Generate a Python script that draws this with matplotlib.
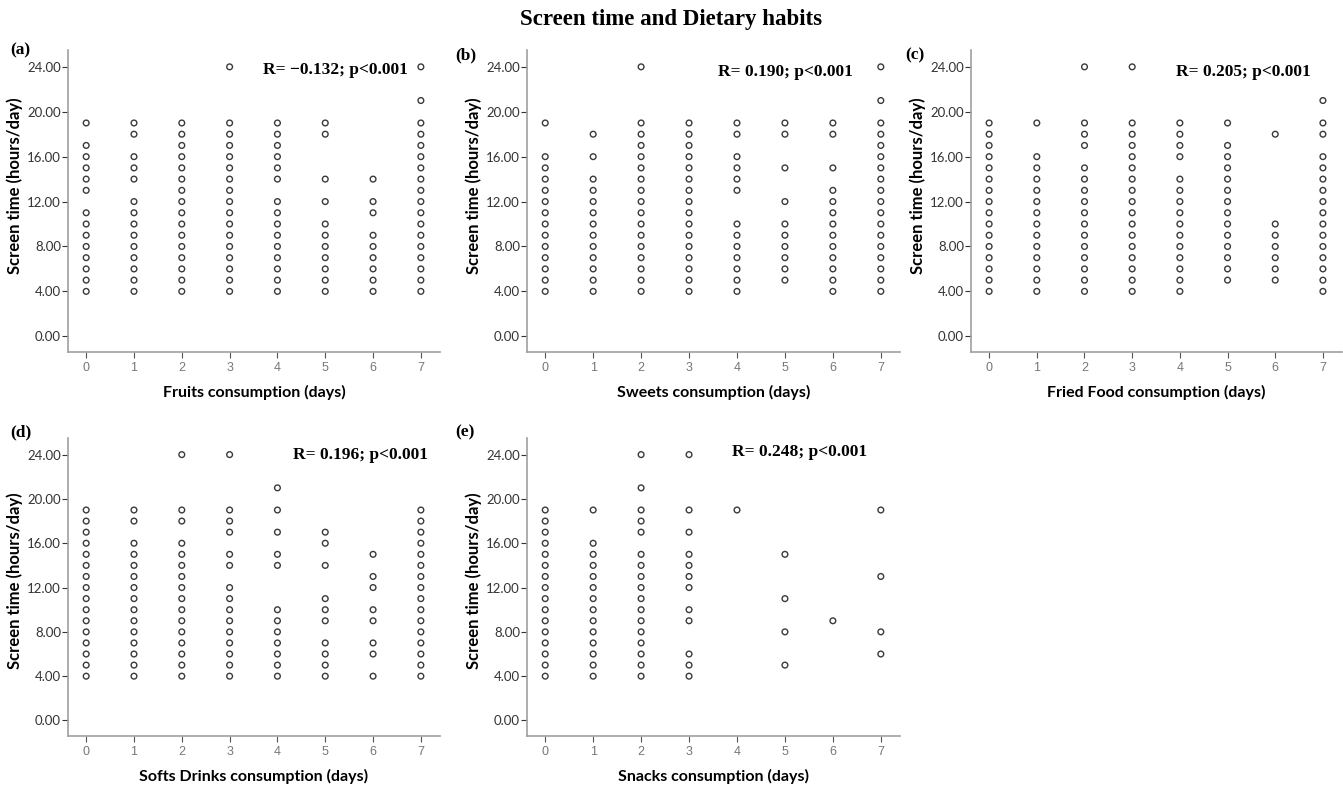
import matplotlib
matplotlib.use("Agg")
import matplotlib.pyplot as plt

# screen time values (hours/day) seen at each consumption level (days 0..7)
days = [0, 1, 2, 3, 4, 5, 6, 7]

fruits = [
    [19, 17, 16, 15, 14, 13, 11, 10, 9, 8, 7, 6, 5, 4],
    [19, 18, 16, 15, 14, 12, 11, 10, 9, 8, 7, 6, 5, 4],
    [19, 18, 17, 16, 15, 14, 13, 12, 11, 10, 9, 8, 7, 6, 5, 4],
    [24, 19, 18, 17, 16, 15, 14, 13, 12, 11, 10, 9, 8, 7, 6, 5, 4],
    [19, 18, 17, 16, 15, 14, 12, 11, 10, 9, 8, 7, 6, 5, 4],
    [19, 18, 14, 12, 10, 9, 8, 7, 6, 5, 4],
    [14, 12, 11, 9, 8, 7, 6, 5, 4],
    [24, 21, 19, 18, 17, 16, 15, 14, 13, 12, 11, 10, 9, 8, 7, 6, 5, 4],
]

sweets = [
    [19, 16, 15, 14, 13, 12, 11, 10, 9, 8, 7, 6, 5, 4],
    [18, 16, 14, 13, 12, 11, 10, 9, 8, 7, 6, 5, 4],
    [24, 19, 18, 17, 16, 15, 14, 13, 12, 11, 10, 9, 8, 7, 6, 5, 4],
    [19, 18, 17, 16, 15, 14, 13, 12, 11, 10, 9, 8, 7, 6, 5, 4],
    [19, 18, 16, 15, 14, 13, 10, 9, 8, 7, 6, 5, 4],
    [19, 18, 15, 12, 10, 9, 8, 7, 6, 5],
    [19, 18, 15, 13, 12, 11, 10, 9, 8, 7, 6, 5, 4],
    [24, 21, 19, 18, 17, 16, 15, 14, 13, 12, 11, 10, 9, 8, 7, 6, 5, 4],
]

fried = [
    [19, 18, 17, 16, 15, 14, 13, 12, 11, 10, 9, 8, 7, 6, 5, 4],
    [19, 16, 15, 14, 13, 12, 11, 10, 9, 8, 7, 6, 5, 4],
    [24, 19, 18, 17, 15, 14, 13, 12, 11, 10, 9, 8, 7, 6, 5, 4],
    [24, 19, 18, 17, 16, 15, 14, 13, 12, 11, 10, 9, 8, 7, 6, 5, 4],
    [19, 18, 17, 16, 14, 13, 12, 11, 10, 9, 8, 7, 6, 5, 4],
    [19, 17, 16, 15, 14, 13, 12, 11, 10, 9, 8, 7, 6, 5],
    [18, 10, 9, 8, 7, 6, 5],
    [21, 19, 18, 16, 15, 14, 13, 12, 11, 10, 9, 8, 7, 6, 5, 4],
]

soft_drinks = [
    [19, 18, 17, 16, 15, 14, 13, 12, 11, 10, 9, 8, 7, 6, 5, 4],
    [19, 18, 16, 15, 14, 13, 12, 11, 10, 9, 8, 7, 6, 5, 4],
    [24, 19, 18, 16, 15, 14, 13, 12, 11, 10, 9, 8, 7, 6, 5, 4],
    [24, 19, 18, 17, 15, 14, 12, 11, 10, 9, 8, 7, 6, 5, 4],
    [21, 19, 17, 15, 14, 10, 9, 8, 7, 6, 5, 4],
    [17, 16, 14, 11, 10, 9, 7, 6, 5, 4],
    [15, 13, 12, 10, 9, 7, 6, 4],
    [19, 18, 17, 16, 15, 14, 13, 12, 11, 10, 9, 8, 7, 6, 5, 4],
]

snacks = [
    [19, 18, 17, 16, 15, 14, 13, 12, 11, 10, 9, 8, 7, 6, 5, 4],
    [19, 16, 15, 14, 13, 12, 11, 10, 9, 8, 7, 6, 5, 4],
    [24, 21, 19, 18, 17, 15, 14, 13, 12, 11, 10, 9, 8, 7, 6, 5, 4],
    [24, 19, 17, 15, 14, 13, 12, 10, 9, 6, 5, 4],
    [19],
    [15, 11, 8, 5],
    [9],
    [19, 13, 8, 6],
]

panel_letters = ["(a)", "(b)", "(c)", "(d)", "(e)"]
x_labels = ["Fruits consumption (days)", "Sweets consumption (days)",
            "Fried Food consumption (days)", "Softs Drinks consumption (days)",
            "Snacks consumption (days)"]
r_texts = ["R= \u22120.132; p<0.001", "R= 0.190; p<0.001", "R= 0.205; p<0.001",
           "R= 0.196; p<0.001", "R= 0.248; p<0.001"]
y_ticks = [0, 4, 8, 12, 16, 20, 24]

W, H = 1343, 787
fig = plt.figure(figsize=(W / 100, H / 100), dpi=100)

# axes boxes in pixels: left, top, right, bottom
boxes = [(68, 50, 440, 352), (527, 50, 900, 352), (971, 50, 1342, 352),
         (68, 438, 440, 736), (527, 438, 900, 736)]
letter_pos = [(10, 50), (455, 55), (905, 55), (10, 432), (455, 432)]
r_pos = [(335, 70), (785, 72), (1243, 72), (360, 455), (800, 452)]
ylabel_y = [0.55, 0.55, 0.55, 0.52, 0.52]
series = [fruits, sweets, fried, soft_drinks, snacks]

fig.text(0.5, 1 - 19 / H, "Screen time and Dietary habits", ha="center", va="center",
         family="Liberation Serif", weight="bold", fontsize=16.5)

for i, data in enumerate(series):
    l, t, r, b = boxes[i]
    ax = fig.add_axes([l / W, 1 - b / H, (r - l) / W, (b - t) / H])
    for d, vals in zip(days, data):
        ax.scatter([d] * len(vals), vals, s=17, facecolors="none",
                   edgecolors="#3a3a3a", linewidths=1.0, zorder=3)
    ax.set_xlim(-0.38, 7.4)
    ax.set_ylim(-1.4, 25.5)
    ax.set_xticks(days)
    ax.set_yticks(y_ticks)
    ax.set_yticklabels(["%.2f" % v for v in y_ticks])
    for s in ["top", "right"]:
        ax.spines[s].set_visible(False)
    for s in ["left", "bottom"]:
        ax.spines[s].set_color("#a0a0a0")
        ax.spines[s].set_linewidth(1.2)
    ax.tick_params(axis="y", length=4, width=0.8, color="#333333", pad=1,
                   labelsize=9.5, labelcolor="#333333")
    ax.tick_params(axis="x", length=4, width=0.8, color="#555555", pad=3,
                   labelsize=9, labelcolor="#777777")
    for lab in ax.get_yticklabels():
        lab.set_family("Lato")
    for lab in ax.get_xticklabels():
        lab.set_family("Liberation Sans")
    ax.set_ylabel("Screen time (hours/day)", family="Lato", weight="bold", fontsize=12)
    ax.yaxis.set_label_coords(-0.12, ylabel_y[i])
    ax.set_xlabel(x_labels[i], family="Lato", weight="bold", fontsize=11.5, labelpad=8)
    lx, ly = letter_pos[i]
    fig.text(lx / W, 1 - ly / H, panel_letters[i], ha="left", va="center",
             family="Liberation Serif", weight="bold", fontsize=12.5)
    rx, ry = r_pos[i]
    fig.text(rx / W, 1 - ry / H, r_texts[i], ha="center", va="center",
             family="Liberation Serif", weight="bold", fontsize=12.5)

fig.savefig("out.png", dpi=100)
